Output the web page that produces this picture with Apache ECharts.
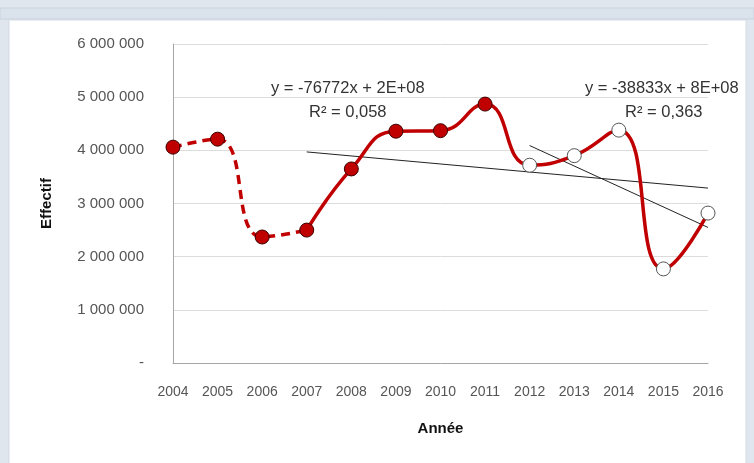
<!DOCTYPE html>
<html>
<head>
<meta charset="utf-8">
<script src="https://cdn.jsdelivr.net/npm/echarts@6/dist/echarts.min.js"></script>
<style>
html,body{margin:0;padding:0;background:#dfe6ee;}
#main{width:754px;height:463px;}
</style>
</head>
<body>
<div id="main"></div>
<script>
// donnees
var annees = ['2004','2005','2006','2007','2008','2009','2010','2011','2012','2013','2014','2015','2016'];
var effectifs = [4060000, 4210000, 2370000, 2500000, 3650000, 4360000, 4370000, 4870000, 3720000, 3900000, 4380000, 1770000, 2820000];
var nbPointilles = 4;   // 2004-2007 en pointilles
var nbPleins = 8;       // 2004-2011 points rouges, ensuite points blancs
var tendance1 = [['2007', 3970000], ['2016', 3290000]];
var tendance2 = [['2012', 4090000], ['2016', 2550000]];
var eq1 = ['y = -76772x + 2E+08', 'R² = 0,058'];
var eq2 = ['y = -38833x + 8E+08', 'R² = 0,363'];

var myChart = echarts.init(document.getElementById('main'));

var partPointille = annees.map(function(a, i){ return i < nbPointilles ? effectifs[i] : null; });
var partPleine = annees.map(function(a, i){ return i >= nbPointilles - 1 ? effectifs[i] : null; });
var pointsRouges = annees.map(function(a, i){ return i < nbPleins ? effectifs[i] : null; });
var pointsBlancs = annees.map(function(a, i){ return i >= nbPleins ? effectifs[i] : null; });

var police = "'Liberation Sans', Arial, sans-serif";

var option = {
    backgroundColor: '#dfe6ee',
    animation: false,
    graphic: [
        {type:'rect', shape:{x:0, y:8, width:754, height:11}, style:{fill:'#dae2ec', stroke:'#c8d2de', lineWidth:1}},
        {type:'rect', shape:{x:9, y:20, width:737, height:445}, style:{fill:'#ffffff', stroke:'#d4dbe3', lineWidth:1}},
        {type:'text', left:271, top:80, style:{text: eq1[0], font:'16.5px ' + police, fill:'#333'}},
        {type:'text', left:309, top:104, style:{text: eq1[1], font:'16.5px ' + police, fill:'#333'}},
        {type:'text', left:585, top:80, style:{text: eq2[0], font:'16.5px ' + police, fill:'#333'}},
        {type:'text', left:625, top:104, style:{text: eq2[1], font:'16.5px ' + police, fill:'#333'}}
    ],
    grid: {left:173, right:46, top:44, bottom:100},
    xAxis: {
        type:'category',
        data: annees,
        boundaryGap:false,
        name:'Année',
        nameLocation:'middle',
        nameGap:58,
        nameTextStyle:{fontFamily:police, fontWeight:'bold', fontSize:15, color:'#111'},
        axisLine:{lineStyle:{color:'#a6a6a6'}},
        axisTick:{show:false},
        axisLabel:{fontFamily:police, fontSize:14, color:'#555', margin:22}
    },
    yAxis: {
        type:'value',
        min:0, max:6000000, interval:1000000,
        name:'Effectif',
        nameLocation:'middle',
        nameGap:119,
        nameRotate:90,
        nameTextStyle:{fontFamily:police, fontWeight:'bold', fontSize:15, color:'#111'},
        axisLine:{show:true, lineStyle:{color:'#a6a6a6'}},
        axisTick:{show:false},
        splitLine:{lineStyle:{color:'#dcdcdc'}},
        axisLabel:{
            fontFamily:police, fontSize:15, color:'#555', margin:29,
            formatter:function(v){
                if (v === 0) return '-';
                return String(v).replace(/\B(?=(\d{3})+(?!\d))/g, ' ');
            }
        }
    },
    series: [
        {type:'line', data: tendance1, symbol:'none', lineStyle:{color:'#222', width:1}, z:2},
        {type:'line', data: tendance2, symbol:'none', lineStyle:{color:'#222', width:1}, z:2},
        {type:'line', data: partPointille, smooth:0.5, symbol:'none',
            lineStyle:{color:'#c00000', width:3.5, type:[9,6]}, z:3},
        {type:'line', data: partPleine, smooth:0.5, symbol:'none',
            lineStyle:{color:'#c00000', width:3.5}, z:3},
        {type:'scatter', data: pointsRouges, symbolSize:14, emphasis:{disabled:true},
            itemStyle:{color:'#c00000', opacity:1, borderColor:'#3a0000', borderWidth:1}, z:4},
        {type:'scatter', data: pointsBlancs, symbolSize:14, emphasis:{disabled:true},
            itemStyle:{color:'#ffffff', opacity:1, borderColor:'#555', borderWidth:1}, z:4}
    ]
};

myChart.setOption(option);
</script>
</body>
</html>
